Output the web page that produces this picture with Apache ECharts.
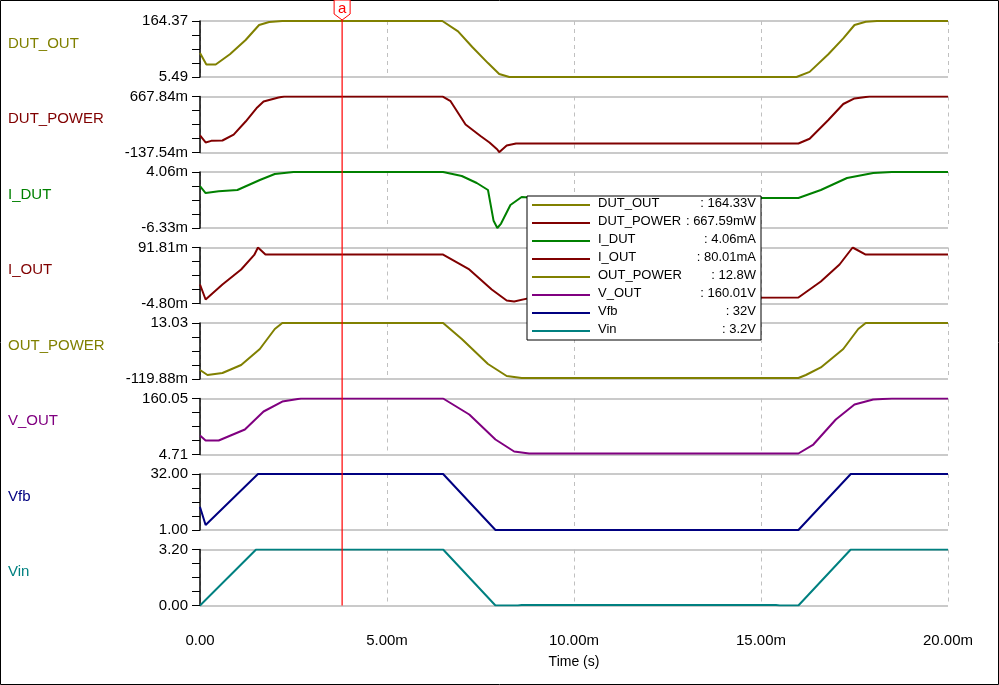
<!DOCTYPE html>
<html><head><meta charset="utf-8">
<script src="https://cdn.jsdelivr.net/npm/echarts@6/dist/echarts.min.js"></script>
<style>html,body{margin:0;padding:0;background:#fff}#c{width:999px;height:685px}</style>
</head><body><div id="c"></div>
<script>
const names = ['DUT_OUT','DUT_POWER','I_DUT','I_OUT','OUT_POWER','V_OUT','Vfb','Vin'];
const colors = ['#808000','#800000','#008000','#800000','#808000','#800080','#000080','#008080'];
const yMin = [5.49,-137.54,-6.33,-4.80,-0.11988,4.71,1.00,0.00];
const yMax = [164.37,667.84,4.06,91.81,13.03,160.05,32.00,3.20];
const yMinLabel = ['5.49','-137.54m','-6.33m','-4.80m','-119.88m','4.71','1.00','0.00'];
const yMaxLabel = ['164.37','667.84m','4.06m','91.81m','13.03','160.05','32.00','3.20'];
const xTickLabels = ['0.00','5.00m','10.00m','15.00m','20.00m'];
const legendValues = ['164.33V','667.59mW','4.06mA','80.01mA','12.8W','160.01V','32V','3.2V'];
const cursorT = 3.8;

const dutOut = [[0,73.6],[0.17,40.9],[0.42,40.9],[0.8,70],[1.22,110.5],[1.58,153],[1.85,161.5],[2.2,164.37],[6.48,164.37],[6.9,135],[7.28,90.6],[7.7,45],[8.0,14],[8.27,5.49],[15.95,5.49],[16.3,20],[16.8,70],[17.2,115],[17.5,153],[17.8,162],[18.1,164.37],[20,164.37]];
const dutPower = [[0,107],[0.15,6.3],[0.3,30],[0.6,35],[0.9,120],[1.22,308],[1.53,510],[1.7,596],[2.1,653],[2.25,668],[6.48,668],[6.7,600],[7.1,265],[7.5,100],[7.74,6],[7.95,-94],[8.0,-133],[8.2,-37],[8.45,-8],[16.0,-8],[16.3,60],[16.8,330],[17.2,560],[17.5,640],[17.9,668],[20,668]];
const iDut = [[0,1.46],[0.15,0.16],[0.5,0.5],[1.0,0.72],[1.6,2.58],[2.0,3.69],[2.5,4.06],[6.5,4.06],[7.0,3.32],[7.4,2.02],[7.7,0.72],[7.85,-5.0],[7.95,-6.33],[8.05,-5.5],[8.3,-2.06],[8.6,-0.58],[9.0,-0.76],[16.0,-0.76],[16.6,0.72],[17.3,2.95],[18.0,3.88],[18.5,4.06],[20,4.06]];
const iOut = [[0,28],[0.15,2.1],[0.6,28],[1.1,53.9],[1.45,79],[1.55,91.8],[1.75,79.7],[6.5,79.7],[7.2,53.9],[7.8,19.4],[8.2,0.4],[8.4,-1.35],[8.8,4.5],[16.0,5.55],[16.6,33.2],[17.1,62.5],[17.45,91.8],[17.8,79.7],[20,79.7]];
const outPower = [[0,2.0],[0.2,0.82],[0.6,1.29],[1.1,3.17],[1.6,6.93],[2.0,11.62],[2.2,13.03],[6.5,13.03],[7.0,9.27],[7.7,3.4],[8.2,0.58],[8.6,0.11],[16.0,0.11],[16.2,0.82],[16.6,2.6],[17.2,6.93],[17.6,11.62],[17.8,13.03],[20,13.03]];
const vOut = [[0,57.4],[0.15,43.5],[0.5,43.5],[1.2,74],[1.7,124],[2.2,151.7],[2.7,160],[6.5,160],[7.2,115.7],[7.9,46.3],[8.4,13],[8.8,7.5],[16.0,7.5],[16.4,32.4],[17.0,101.8],[17.5,143.4],[18.0,157.3],[18.5,160],[20,160]];
const vfb = [[0,13.7],[0.15,3.8],[1.55,32],[6.5,32],[7.9,1],[16.0,1],[17.4,32],[20,32]];
const vin = [[0,0],[1.5,3.2],[6.5,3.2],[7.9,0],[8.5,0],[8.6,0.03],[15.4,0.03],[15.5,0],[16.0,0],[17.4,3.2],[20,3.2]];
const data = [dutOut,dutPower,iDut,iOut,outPower,vOut,vfb,vin];

const top0 = 21, step = 75.5, h = 56, left = 200, right = 51;
const grids=[],xAxes=[],yAxes=[],series=[],graphics=[];
for(let i=0;i<8;i++){
  grids.push({left:left,right:right,top:top0+step*i,height:h});
  const last = i===7;
  xAxes.push({type:'value',gridIndex:i,min:0,max:20,interval:5,
    axisLine:{show:false},axisTick:{show:false},
    axisLabel:{show:last,margin:28,color:'#000',fontFamily:'Arial',fontSize:15,formatter:(v)=>xTickLabels[Math.round(v/5)]},
    splitLine:{show:true,lineStyle:{color:'#c0c0c0',type:[4,4]}},
    name:last?'Time (s)':'',nameLocation:'middle',nameGap:50,nameTextStyle:{color:'#000',fontFamily:'Arial',fontSize:14}});
  yAxes.push({type:'value',gridIndex:i,min:yMin[i],max:yMax[i],interval:yMax[i]-yMin[i],
    axisLine:{show:true,lineStyle:{color:'#000',width:1.5}},
    axisTick:{show:true,length:8,lineStyle:{color:'#000'}},
    minorTick:{show:true,splitNumber:4,length:8,lineStyle:{color:'#000'}},
    splitLine:{show:true,lineStyle:{color:'#b8b8b8',width:1.5}},
    axisLabel:{color:'#000',fontFamily:'Arial',fontSize:15,margin:12,
      formatter:(v)=> (Math.abs(v-yMin[i])<Math.abs(v-yMax[i]))?yMinLabel[i]:yMaxLabel[i]}});
  series.push({type:'line',xAxisIndex:i,yAxisIndex:i,data:data[i],showSymbol:false,symbol:'none',
    lineStyle:{color:colors[i],width:2},itemStyle:{color:colors[i]},animation:false,z:3});
  graphics.push({type:'text',left:8,top:top0+step*i+h/2-13,style:{text:names[i],fill:colors[i],font:'15px Arial'}});
}
// legend box
const lx=527, ly=196;
graphics.push({type:'rect',shape:{x:lx,y:ly,width:234,height:144},style:{fill:'#fff',stroke:'#000',lineWidth:1},z:10});
for(let i=0;i<8;i++){
  const yy = ly+9+i*18;
  graphics.push({type:'line',shape:{x1:lx+5,y1:yy,x2:lx+63,y2:yy},style:{stroke:colors[i],lineWidth:2},z:11});
  graphics.push({type:'text',x:lx+71,y:yy-8,style:{text:names[i],fill:'#000',font:'13px Arial'},z:11});
  graphics.push({type:'text',x:lx+229,y:yy-8,style:{text:': '+legendValues[i],fill:'#000',font:'13px Arial',align:'right'},z:11});
}
graphics.push({type:'rect',shape:{x:0.5,y:0.5,width:998,height:684},style:{fill:'none',stroke:'#000',lineWidth:1},z:0,silent:true});

const chart = echarts.init(document.getElementById('c'),null,{renderer:'canvas'});
chart.setOption({animation:false,backgroundColor:'#fff',grid:grids,xAxis:xAxes,yAxis:yAxes,series:series,graphic:graphics});
const cx = chart.convertToPixel({xAxisIndex:0},cursorT);
graphics.push({type:'line',shape:{x1:cx,y1:12,x2:cx,y2:top0+step*7+h},style:{stroke:'#ff0000',lineWidth:1.2},z:9});
graphics.push({type:'polygon',shape:{points:[[cx-8,0],[cx+8,0],[cx+8,14],[cx,20],[cx-8,14]]},style:{fill:'#fff',stroke:'#ff0000',lineWidth:1},z:12});
graphics.push({type:'text',x:cx,y:1,style:{text:'a',fill:'#ff0000',font:'15px Arial',align:'center'},z:13});
chart.setOption({graphic:graphics});
</script></body></html>
